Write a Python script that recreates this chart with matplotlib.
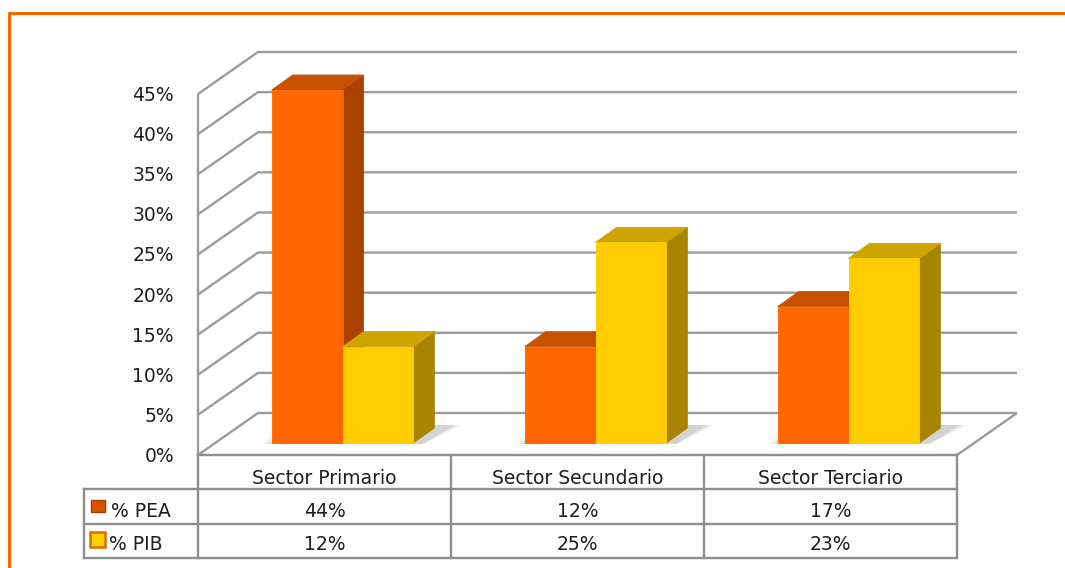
import matplotlib
matplotlib.use("Agg")
import matplotlib.pyplot as plt
from matplotlib.transforms import IdentityTransform
from matplotlib.patches import Polygon, Rectangle
from matplotlib.lines import Line2D

# ---------------- data ----------------
categories = ["Sector Primario", "Sector Secundario", "Sector Terciario"]
series_names = ["% PEA", "% PIB"]
pea = [44, 12, 17]
pib = [12, 25, 23]
y_ticks = [0, 5, 10, 15, 20, 25, 30, 35, 40, 45]
y_tick_labels = ["0%", "5%", "10%", "15%", "20%", "25%", "30%", "35%", "40%", "45%"]
pea_labels = ["44%", "12%", "17%"]
pib_labels = ["12%", "25%", "23%"]

# ---------------- style ----------------
W, H, DPI = 1065, 568, 100
plt.rcParams['font.family'] = ['DejaVu Sans']
FS = 13.5
TXT = '#1e1e1e'
GRID = '#9c9c9c'
TABLE = '#8e8e8e'
BORDER = '#FF6600'
PEA_COLS = dict(front='#FF6600', side='#A94100', top='#C65200')
PIB_COLS = dict(front='#FFCC00', side='#A88500', top='#CDA400')

FRONT = (-60, 42)   # pixel offset of the front plane from the back wall
BARF = (-42, 30)    # bar front face
BARB = (-21, 15)    # bar back face
BAR_W = 0.28

fig = plt.figure(figsize=(W / DPI, H / DPI), dpi=DPI)
fig.patch.set_facecolor('white')

# back wall axes (data coordinates)
ax = fig.add_axes([258 / W, 1 - 413 / H, 759 / W, 361 / H])
ax.set_xlim(-0.5, 2.5)
ax.set_ylim(0, 45)
ax.axis('off')

# overlay in image pixel coordinates (for border and table)
ov = fig.add_axes([0, 0, 1, 1])
ov.set_xlim(0, W)
ov.set_ylim(H, 0)
ov.axis('off')
ov.patch.set_alpha(0)

ID = IdentityTransform()


def P(x, y, off=(0, 0)):
    X, Y = ax.transData.transform((x, y))
    return (X + off[0], Y - off[1])


def img(pt):
    return (pt[0], H - pt[1])


def poly(pts, color, z, edge=True, **kw):
    p = Polygon(pts, closed=True, facecolor=color,
                edgecolor=color if edge else 'none', lw=0.6 if edge else 0,
                transform=ID, clip_on=False, zorder=z, **kw)
    ax.add_patch(p)


def line(pts, color, lw, z):
    xs = [p[0] for p in pts]
    ys = [p[1] for p in pts]
    ax.add_line(Line2D(xs, ys, color=color, lw=lw, transform=ID,
                       clip_on=False, zorder=z, solid_capstyle='butt'))


# ---------------- walls / grid ----------------
x_lo, x_hi = -0.5, 2.5
for t in y_ticks:
    line([P(x_lo, t, FRONT), P(x_lo, t), P(x_hi, t)], GRID, 1.7, 1)
line([P(x_lo, 0, FRONT), P(x_lo, y_ticks[-1], FRONT)], GRID, 1.7, 1)
line([P(x_hi, 0), P(x_hi, 0, FRONT)], GRID, 1.7, 1)

for t, lab in zip(y_ticks, y_tick_labels):
    X, Y = img(P(x_lo, t, FRONT))
    ov.text(X - 24, Y + 7, lab, ha='right', va='baseline', fontsize=FS, color=TXT)

# ---------------- bars ----------------
for i in range(len(categories)):
    for j, (vals, cols) in enumerate([(pea, PEA_COLS), (pib, PIB_COLS)]):
        v = vals[i]
        x0 = i - BAR_W + j * BAR_W
        x1 = x0 + BAR_W
        if j == 0:
            # soft floor shadow around the base of the pair
            for k, a in enumerate([0.04, 0.06, 0.08]):
                g = 10 - 4 * k
                sh = [P(x0, 0, (BARF[0] - g, BARF[1] + 1)),
                      P(x0 + 2 * BAR_W, 0, (BARF[0] + 10, BARF[1] + 1)),
                      P(x0 + 2 * BAR_W, 0, (BARB[0] + 18 + g, BARB[1] - 3)),
                      P(x0, 0, (BARB[0] - g, BARB[1] - 3))]
                poly(sh, 'black', 2, edge=False, alpha=a)
        side = [P(x1, 0, BARF), P(x1, 0, BARB), P(x1, v, BARB), P(x1, v, BARF)]
        top = [P(x0, v, BARF), P(x1, v, BARF), P(x1, v, BARB), P(x0, v, BARB)]
        front = [P(x0, 0, BARF), P(x1, 0, BARF), P(x1, v, BARF), P(x0, v, BARF)]
        poly(side, cols['side'], 3)
        poly(top, cols['top'], 3)
        poly(front, cols['front'], 3)

# ---------------- data table ----------------
col_x = [img(P(x, 0, FRONT))[0] for x in [-0.5, 0.5, 1.5, 2.5]]
row_y = [img(P(-0.5, 0, FRONT))[1], 489, 524, 558]
left_x = 84

ov.plot([col_x[0], col_x[-1]], [row_y[0], row_y[0]], color=TABLE, lw=1.7)
for yy in row_y[1:]:
    ov.plot([left_x, col_x[-1]], [yy, yy], color=TABLE, lw=1.7)
for xx in col_x:
    ov.plot([xx, xx], [row_y[0], row_y[-1]], color=TABLE, lw=1.7)
ov.plot([left_x, left_x], [row_y[1], row_y[-1]], color=TABLE, lw=1.7)

for i, cat in enumerate(categories):
    cx = (col_x[i] + col_x[i + 1]) / 2
    ov.text(cx, 484, cat, ha='center', va='baseline', fontsize=FS, color=TXT)
    ov.text(cx, 517, pea_labels[i], ha='center', va='baseline', fontsize=FS, color=TXT)
    ov.text(cx, 550, pib_labels[i], ha='center', va='baseline', fontsize=FS, color=TXT)

# row headers with legend keys
ov.add_patch(Rectangle((91, 500), 14, 12, facecolor='#D85200', edgecolor='#A53C00', lw=1.0))
ov.text(111, 517, series_names[0], ha='left', va='baseline', fontsize=FS, color=TXT)
ov.add_patch(Rectangle((90, 532), 15, 15, facecolor='#FFD200', edgecolor='#E06A00', lw=1.8))
ov.text(109, 550, series_names[1], ha='left', va='baseline', fontsize=FS, color=TXT)

# ---------------- orange border ----------------
ov.plot([9, 9, W + 5], [H + 5, 13, 13], color=BORDER, lw=2.2, clip_on=False)

fig.savefig('out.png', dpi=DPI)
